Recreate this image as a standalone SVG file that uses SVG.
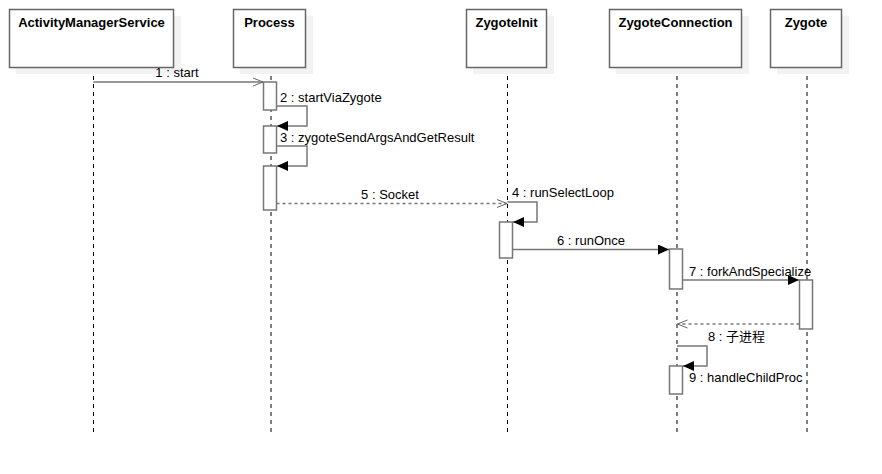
<svg xmlns="http://www.w3.org/2000/svg" width="882" height="474" viewBox="0 0 882 474">
<defs>
<marker id="open" markerWidth="12" markerHeight="10" refX="11" refY="5" orient="auto" markerUnits="userSpaceOnUse"><path d="M1,1 L11,5 L1,9" fill="none" stroke="#666" stroke-width="1"/></marker>
<marker id="filled" markerWidth="12" markerHeight="10" refX="11" refY="5" orient="auto" markerUnits="userSpaceOnUse"><path d="M0,0 L11,5 L0,10 Z" fill="#000"/></marker>
</defs>
<style>
.box{fill:#fff;stroke:#666;stroke-width:1.5}
.shadow{fill:#f2f2f2}
.title{font-family:"Liberation Sans",Arial,sans-serif;font-size:13px;font-weight:bold;fill:#000;text-anchor:middle}
.life{stroke:#000;stroke-width:1;stroke-dasharray:4,4;fill:none}
.bar{fill:#fff;stroke:#777;stroke-width:1.5}
.msg{stroke:#777;stroke-width:1.5;fill:none}
.dash{stroke:#777;stroke-width:1.5;fill:none;stroke-dasharray:3,3}
.lbl{font-family:"Liberation Sans",Arial,"Noto Sans CJK SC",sans-serif;font-size:13px;fill:#000}
</style>
<rect width="882" height="474" fill="#fff"/>
<g id="lifelines">
<line class="life" x1="93.5" y1="68" x2="93.5" y2="432"/>
<line class="life" x1="271" y1="68" x2="271" y2="432"/>
<line class="life" x1="507.5" y1="68" x2="507.5" y2="432"/>
<line class="life" x1="677" y1="68" x2="677" y2="432"/>
<line class="life" x1="807" y1="68" x2="807" y2="432"/>
</g>
<g id="ActivityManagerService">
<rect class="shadow" x="16" y="16" width="165" height="58"/>
<rect class="box" x="9.5" y="9.5" width="164" height="58"/>
<text class="title" x="91.5" y="27">ActivityManagerService</text>
</g>
<g id="Process">
<rect class="shadow" x="240" y="16" width="73" height="58"/>
<rect class="box" x="233.5" y="9.5" width="72" height="58"/>
<text class="title" x="269.5" y="27">Process</text>
</g>
<g id="ZygoteInit">
<rect class="shadow" x="473" y="16" width="81" height="58"/>
<rect class="box" x="466.5" y="9.5" width="80" height="58"/>
<text class="title" x="506.5" y="27">ZygoteInit</text>
</g>
<g id="ZygoteConnection">
<rect class="shadow" x="616" y="16" width="133" height="58"/>
<rect class="box" x="609.5" y="9.5" width="132" height="58"/>
<text class="title" x="675.5" y="27">ZygoteConnection</text>
</g>
<g id="Zygote">
<rect class="shadow" x="777" y="16" width="72" height="58"/>
<rect class="box" x="770.5" y="9.5" width="71" height="58"/>
<text class="title" x="806" y="27">Zygote</text>
</g>
<g id="activations">
<rect class="bar" x="263.5" y="82" width="13" height="28"/>
<rect class="bar" x="263.5" y="126" width="13" height="27"/>
<rect class="bar" x="263.5" y="166" width="13" height="44"/>
<rect class="bar" x="499.5" y="222" width="13" height="36"/>
<rect class="bar" x="669.5" y="249" width="13" height="40"/>
<rect class="bar" x="799.5" y="280" width="13" height="49"/>
<rect class="bar" x="669.5" y="366" width="13" height="28"/>
</g>
<g id="connectors">
<line class="msg" x1="93.5" y1="82" x2="263" y2="82" marker-end="url(#open)"/>
<polyline class="msg" points="276.5,106 307,106 307,126 277,126" marker-end="url(#filled)"/>
<polyline class="msg" points="276.5,146 307,146 307,166 277,166" marker-end="url(#filled)"/>
<line class="dash" x1="276.5" y1="203.5" x2="507" y2="203.5" marker-end="url(#open)"/>
<polyline class="msg" points="507.5,202 537,202 537,222 513,222" marker-end="url(#filled)"/>
<line class="msg" x1="512.5" y1="249.5" x2="669" y2="249.5" marker-end="url(#filled)"/>
<line class="msg" x1="682.5" y1="280" x2="799" y2="280" marker-end="url(#filled)"/>
<line class="dash" x1="799.5" y1="324" x2="677.5" y2="324" marker-end="url(#open)"/>
<polyline class="msg" points="677,346 707,346 707,366 683,366" marker-end="url(#filled)"/>
</g>
<g id="labels">
<text class="lbl" x="177" y="77" text-anchor="middle">1 : start</text>
<text class="lbl" x="280" y="102">2 : startViaZygote</text>
<text class="lbl" x="280" y="142">3 : zygoteSendArgsAndGetResult</text>
<text class="lbl" x="512" y="197">4 : runSelectLoop</text>
<text class="lbl" x="390" y="199" text-anchor="middle">5 : Socket</text>
<text class="lbl" x="591" y="245" text-anchor="middle">6 : runOnce</text>
<text class="lbl" x="689" y="276">7 : forkAndSpecialize</text>
<text class="lbl" x="708" y="341">8 : 子进程</text>
<text class="lbl" x="689" y="382">9 : handleChildProc</text>
</g>
</svg>
